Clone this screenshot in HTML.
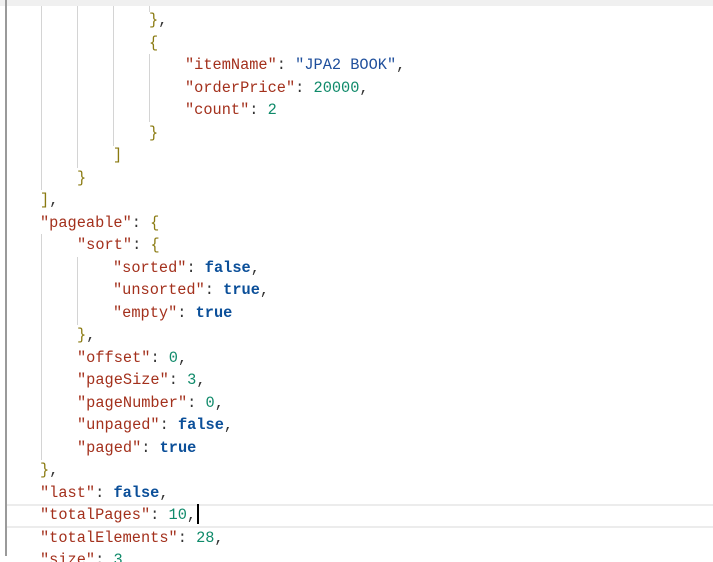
<!DOCTYPE html>
<html><head><style>
html,body{margin:0;padding:0;background:#fff;width:713px;height:562px;overflow:hidden;position:relative}
.top{position:absolute;left:0;top:0;width:713px;height:6px;background:#f0f0f0}
.lb{position:absolute;left:5px;top:0;width:2px;height:556px;background:#9a9a9a}
.g{position:absolute;width:1px;background:#d4d4d4}
.hl{position:absolute;left:7px;width:706px;top:504px;height:20px;border-top:2px solid #ececec;border-bottom:2px solid #ececec}
.l{position:absolute;font-family:"Liberation Mono",monospace;font-size:15.3px;line-height:22px;white-space:pre;color:#333}
.k{color:#a3301c}.s{color:#1f4f9c}.n{color:#0f8a6a}.b{color:#0b4f99;font-weight:bold}.br{color:#8a7a10}
.cur{display:inline-block;width:2px;height:20px;background:#000;vertical-align:top;margin-left:1px}
</style></head><body>
<div class="top"></div>
<div class="lb"></div>
<div class="hl"></div>
<div class="g" style="left:41px;top:6px;height:184px"></div>
<div class="g" style="left:77px;top:6px;height:162px"></div>
<div class="g" style="left:113px;top:6px;height:140px"></div>
<div class="g" style="left:149px;top:6px;height:6px"></div>
<div class="g" style="left:149px;top:54px;height:68px"></div>
<div class="g" style="left:41px;top:234px;height:226px"></div>
<div class="g" style="left:77px;top:257px;height:68px"></div>
<div class="l" style="left:149px;top:9px"><span class="br">}</span>,</div>
<div class="l" style="left:149px;top:32px"><span class="br">{</span></div>
<div class="l" style="left:185px;top:54px"><span class="k">"itemName"</span>: <span class="s">"JPA2 BOOK"</span>,</div>
<div class="l" style="left:185px;top:77px"><span class="k">"orderPrice"</span>: <span class="n">20000</span>,</div>
<div class="l" style="left:185px;top:99px"><span class="k">"count"</span>: <span class="n">2</span></div>
<div class="l" style="left:149px;top:122px"><span class="br">}</span></div>
<div class="l" style="left:113px;top:144px"><span class="br">]</span></div>
<div class="l" style="left:77px;top:167px"><span class="br">}</span></div>
<div class="l" style="left:40px;top:189px"><span class="br">]</span>,</div>
<div class="l" style="left:40px;top:212px"><span class="k">"pageable"</span>: <span class="br">{</span></div>
<div class="l" style="left:77px;top:234px"><span class="k">"sort"</span>: <span class="br">{</span></div>
<div class="l" style="left:113px;top:257px"><span class="k">"sorted"</span>: <span class="b">false</span>,</div>
<div class="l" style="left:113px;top:279px"><span class="k">"unsorted"</span>: <span class="b">true</span>,</div>
<div class="l" style="left:113px;top:302px"><span class="k">"empty"</span>: <span class="b">true</span></div>
<div class="l" style="left:77px;top:324px"><span class="br">}</span>,</div>
<div class="l" style="left:77px;top:347px"><span class="k">"offset"</span>: <span class="n">0</span>,</div>
<div class="l" style="left:77px;top:369px"><span class="k">"pageSize"</span>: <span class="n">3</span>,</div>
<div class="l" style="left:77px;top:392px"><span class="k">"pageNumber"</span>: <span class="n">0</span>,</div>
<div class="l" style="left:77px;top:414px"><span class="k">"unpaged"</span>: <span class="b">false</span>,</div>
<div class="l" style="left:77px;top:437px"><span class="k">"paged"</span>: <span class="b">true</span></div>
<div class="l" style="left:40px;top:459px"><span class="br">}</span>,</div>
<div class="l" style="left:40px;top:482px"><span class="k">"last"</span>: <span class="b">false</span>,</div>
<div class="l" style="left:40px;top:504px"><span class="k">"totalPages"</span>: <span class="n">10</span>,<span class="cur"></span></div>
<div class="l" style="left:40px;top:527px"><span class="k">"totalElements"</span>: <span class="n">28</span>,</div>
<div class="l" style="left:40px;top:549px"><span class="k">"size"</span>: <span class="n">3</span>,</div>
</body></html>
